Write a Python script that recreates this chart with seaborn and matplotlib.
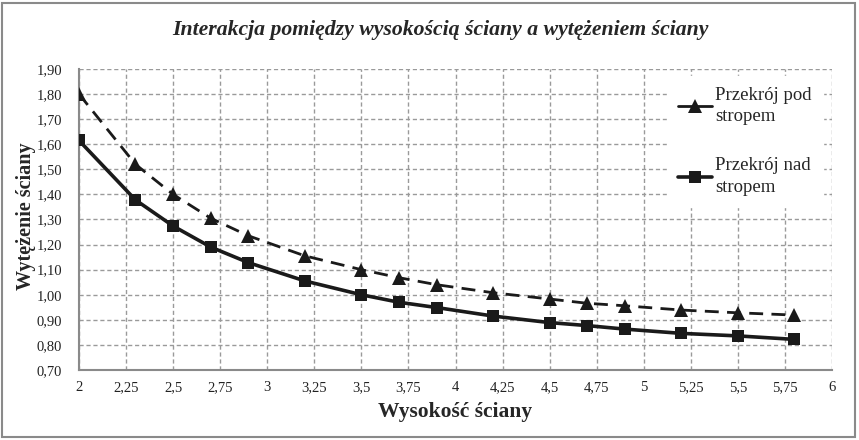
import matplotlib
matplotlib.use("Agg")
import matplotlib.pyplot as plt
import seaborn as sns
import pandas as pd
from matplotlib.patches import Rectangle
from matplotlib.ticker import FixedLocator, FuncFormatter

# Data
heights = [2.0, 2.3, 2.5, 2.7, 2.9, 3.2, 3.5, 3.7, 3.9, 4.2, 4.5, 4.7, 4.9, 5.2, 5.5, 5.8]
pod_stropem = [1.80, 1.52, 1.40, 1.305, 1.235, 1.155, 1.10, 1.068, 1.04, 1.008, 0.983, 0.966, 0.956, 0.939, 0.928, 0.919]
nad_stropem = [1.615, 1.378, 1.274, 1.19, 1.128, 1.055, 1.0, 0.97, 0.949, 0.915, 0.889, 0.877, 0.863, 0.846, 0.836, 0.822]
series_labels = ["Przekrój pod\nstropem", "Przekrój nad\nstropem"]
title = "Interakcja pomiędzy wysokością ściany a wytężeniem ściany"
xlabel = "Wysokość ściany"
ylabel = "Wytężenie ściany"
xticks = [2, 2.25, 2.5, 2.75, 3, 3.25, 3.5, 3.75, 4, 4.25, 4.5, 4.75, 5, 5.25, 5.5, 5.75, 6]
yticks = [0.70, 0.80, 0.90, 1.00, 1.10, 1.20, 1.30, 1.40, 1.50, 1.60, 1.70, 1.80, 1.90]

df_pod = pd.DataFrame({"x": heights, "y": pod_stropem})
df_nad = pd.DataFrame({"x": heights, "y": nad_stropem})

sns.set_style("white")
plt.rcParams['font.family'] = ['Liberation Serif', 'DejaVu Serif']

fig = plt.figure(figsize=(8.59, 4.40), dpi=100)
ax = fig.add_axes([79/859, 1-370/440, (832-79)/859, (370-69)/440])

sns.lineplot(data=df_pod, x="x", y="y", ax=ax, color="#1a1a1a", linewidth=2.0,
             linestyle=(0, (5, 3)), marker="^", markersize=9.5, markeredgewidth=0,
             label=series_labels[0], zorder=3)
sns.lineplot(data=df_nad, x="x", y="y", ax=ax, color="#1a1a1a", linewidth=2.6,
             marker="s", markersize=8.5, markeredgewidth=0,
             label=series_labels[1], zorder=3)

ax.set_xlim(2, 6)
ax.set_ylim(0.70, 1.90)
ax.xaxis.set_major_locator(FixedLocator(xticks))
ax.yaxis.set_major_locator(FixedLocator(yticks))
ax.xaxis.set_major_formatter(FuncFormatter(lambda v, p: (f"{v:g}").replace(".", ",")))
ax.yaxis.set_major_formatter(FuncFormatter(lambda v, p: f"{v:.2f}".replace(".", ",")))
ax.tick_params(axis="both", length=0, labelsize=10.5, colors="#222222")
ax.tick_params(axis="x", pad=8)
ax.tick_params(axis="y", pad=12)

ax.grid(True, color="#9a9a9a", linestyle=(0, (3, 2)), linewidth=1.0)
ax.set_axisbelow(True)
for s in ["top", "right"]:
    ax.spines[s].set_visible(False)
for s in ["left", "bottom"]:
    ax.spines[s].set_color("#8a8a8a")
    ax.spines[s].set_linewidth(1.5)

ax.set_xlabel(xlabel, fontsize=15.5, fontweight="bold", labelpad=6)
ax.set_ylabel(ylabel, fontsize=14.5, fontweight="bold")
ax.yaxis.set_label_coords(-0.057, 0.51)

fig.text(440/859, 1-30/440, title, ha="center", va="center", fontsize=15.7,
         style="italic", fontweight="bold")

leg = ax.legend(loc="upper left", bbox_to_anchor=(0.781, 0.978), frameon=True,
                fontsize=13.5, handlelength=1.8, handletextpad=0.15,
                labelspacing=1.7, borderaxespad=0, borderpad=0.6)
leg.get_frame().set_facecolor("white")
leg.get_frame().set_edgecolor("white")
leg.get_frame().set_alpha(1)
for t in leg.get_texts():
    t.set_linespacing(1.35)
for line in leg.get_lines():
    line.set_linestyle("-")

fig.patches.append(Rectangle((2/859, 3/440), 853/859, 434/440, transform=fig.transFigure,
                             fill=False, edgecolor="#8a8a8a", linewidth=1.5))

fig.savefig("out.png", dpi=100)
